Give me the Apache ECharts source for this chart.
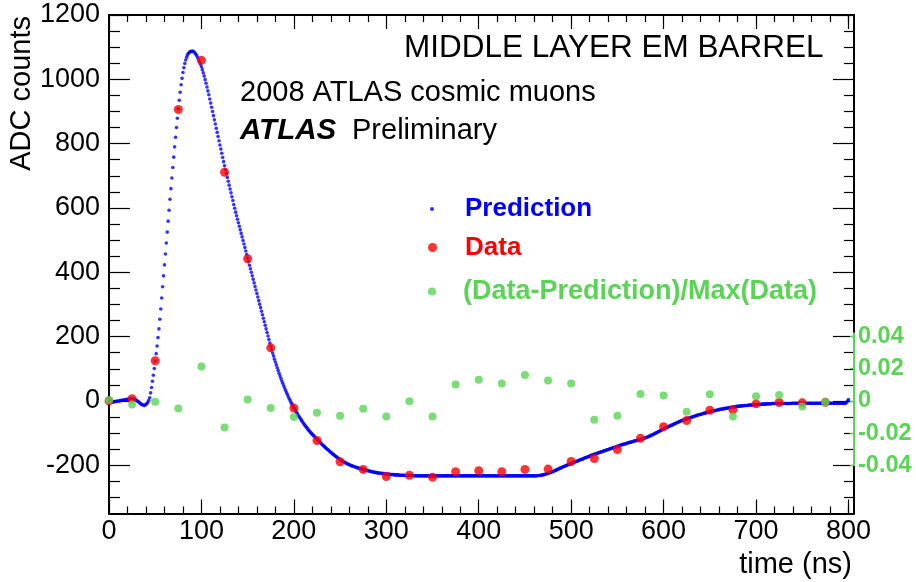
<!DOCTYPE html>
<html>
<head>
<meta charset="utf-8">
<script src="https://cdn.jsdelivr.net/npm/echarts@6/dist/echarts.min.js"></script>
<style>
  html, body { margin: 0; padding: 0; background: #ffffff; }
  #chart { width: 916px; height: 582px; }
</style>
</head>
<body>
<div id="chart"></div>
<script>
// ---- tick positions and labels ----
const xMajorTicks = [0, 100, 200, 300, 400, 500, 600, 700, 800];
const xMinorTicks = [20, 40, 60, 80, 120, 140, 160, 180, 220, 240, 260, 280, 320, 340, 360, 380,
  420, 440, 460, 480, 520, 540, 560, 580, 620, 640, 660, 680, 720, 740, 760, 780, 800];
const yMajorTicks = [-200, 0, 200, 400, 600, 800, 1000, 1200];
const yMinorTicks = [-300, -250, -150, -100, -50, 50, 100, 150, 250, 300, 350, 450, 500, 550,
  650, 700, 750, 850, 900, 950, 1050, 1100, 1150];
const residualTicks = [-0.04, -0.02, 0, 0.02, 0.04];

// ---- predicted pulse shape, one sample per ns starting at 0 ns (ADC counts) ----
const predictionStart = 0;
const prediction = [
  -4, -4, -4, -3, -3, -3, -2, -2, -1, -1,
  0, 0, 1, 1, 2, 2, 3, 3, 4, 4,
  5, 5, 6, 6, 6, 6, 6, 5, 4, 3,
  1, -1, -3, -6, -8, -10, -12, -13, -14, -13,
  -11, -8, -4, 2, 10, 25, 42, 61, 80, 101,
  124, 147, 171, 197, 224, 254, 286, 320, 355, 389,
  423, 457, 491, 525, 559, 593, 627, 660, 693, 726,
  758, 790, 820, 850, 879, 908, 935, 960, 983, 1003,
  1021, 1036, 1049, 1060, 1069, 1076, 1081, 1084, 1086, 1087,
  1087, 1087, 1085, 1082, 1078, 1073, 1067, 1061, 1054, 1047,
  1039, 1030, 1020, 1010, 999, 988, 976, 964, 952, 939,
  926, 913, 900, 887, 874, 861, 848, 835, 822, 809,
  796, 783, 770, 757, 744, 731, 719, 707, 695, 683,
  671, 659, 647, 635, 623, 611, 599, 587, 576, 565,
  554, 543, 532, 521, 510, 499, 488, 477, 466, 455,
  444, 433, 422, 411, 400, 389, 378, 367, 356, 345,
  334, 323, 312, 301, 290, 279, 268, 257, 246, 235,
  224, 213, 202, 191, 180, 169, 159, 149, 140, 130,
  121, 112, 103, 95, 86, 78, 70, 62, 55, 47,
  40, 33, 26, 20, 13, 7, 1, -5, -10, -16,
  -21, -26, -31, -36, -41, -46, -50, -55, -59, -63,
  -68, -72, -76, -80, -83, -87, -91, -94, -98, -101,
  -104, -107, -110, -113, -116, -119, -122, -125, -128, -131,
  -134, -137, -139, -142, -145, -147, -150, -152, -155, -157,
  -160, -162, -165, -167, -169, -172, -174, -176, -178, -180,
  -182, -184, -186, -188, -189, -191, -193, -194, -196, -197,
  -198, -200, -201, -202, -203, -204, -205, -206, -207, -208,
  -209, -210, -211, -211, -212, -213, -214, -215, -215, -216,
  -217, -218, -218, -219, -220, -220, -221, -222, -222, -223,
  -223, -224, -224, -225, -225, -225, -226, -226, -226, -227,
  -227, -227, -228, -228, -228, -229, -229, -229, -229, -230,
  -230, -230, -230, -230, -231, -231, -231, -231, -231, -231,
  -232, -232, -232, -232, -232, -232, -232, -232, -232, -232,
  -233, -233, -233, -233, -233, -233, -233, -233, -233, -233,
  -233, -233, -233, -233, -233, -233, -233, -233, -233, -233,
  -233, -233, -233, -233, -233, -233, -233, -233, -233, -233,
  -233, -233, -233, -233, -233, -233, -233, -233, -233, -233,
  -233, -233, -233, -233, -233, -233, -233, -233, -233, -233,
  -233, -233, -233, -233, -233, -233, -233, -233, -233, -233,
  -233, -233, -233, -233, -233, -233, -233, -233, -233, -233,
  -233, -233, -233, -233, -233, -233, -233, -233, -233, -233,
  -233, -233, -233, -233, -233, -233, -233, -233, -233, -233,
  -233, -233, -233, -233, -233, -233, -233, -233, -233, -233,
  -233, -233, -233, -233, -233, -233, -233, -233, -233, -233,
  -233, -233, -233, -233, -233, -233, -233, -233, -233, -233,
  -233, -233, -233, -233, -233, -233, -233, -233, -233, -233,
  -233, -233, -233, -233, -232, -232, -232, -231, -231, -230,
  -229, -229, -228, -227, -226, -225, -224, -223, -222, -221,
  -220, -219, -217, -216, -215, -213, -212, -211, -209, -208,
  -207, -205, -204, -203, -202, -200, -199, -198, -197, -196,
  -195, -194, -193, -191, -190, -189, -188, -187, -185, -184,
  -183, -182, -181, -180, -178, -177, -176, -175, -174, -173,
  -171, -170, -169, -168, -167, -166, -165, -164, -163, -162,
  -161, -160, -159, -158, -157, -156, -155, -154, -153, -152,
  -151, -150, -149, -148, -147, -146, -145, -144, -143, -142,
  -141, -140, -139, -138, -137, -136, -135, -135, -134, -133,
  -132, -131, -130, -129, -129, -128, -127, -126, -125, -124,
  -124, -123, -122, -121, -121, -120, -119, -118, -117, -116,
  -115, -114, -113, -112, -110, -109, -108, -106, -105, -104,
  -102, -101, -99, -98, -96, -95, -93, -92, -90, -89,
  -87, -86, -84, -83, -82, -80, -79, -78, -76, -75,
  -74, -72, -71, -70, -68, -67, -66, -64, -63, -62,
  -61, -60, -59, -58, -57, -56, -55, -54, -53, -52,
  -51, -50, -49, -48, -47, -46, -45, -44, -43, -42,
  -42, -41, -40, -39, -38, -38, -37, -36, -35, -35,
  -34, -33, -32, -32, -31, -30, -30, -29, -28, -28,
  -27, -26, -26, -25, -25, -24, -24, -23, -23, -22,
  -22, -21, -21, -20, -20, -19, -19, -18, -18, -17,
  -17, -17, -16, -16, -16, -15, -15, -15, -14, -14,
  -14, -14, -13, -13, -13, -13, -13, -12, -12, -12,
  -12, -12, -11, -11, -11, -11, -10, -10, -10, -10,
  -10, -9, -9, -9, -9, -9, -9, -8, -8, -8,
  -8, -8, -8, -8, -8, -8, -8, -8, -8, -8,
  -8, -8, -8, -8, -8, -8, -8, -8, -8, -7,
  -7, -7, -7, -7, -7, -7, -7, -7, -7, -7,
  -7, -7, -7, -7, -7, -7, -7, -7, -7, -7,
  -7, -7, -7, -7, -7, -7, -7, -7, -7, -7,
  -7, -7, -7, -7, -7, -7, -7, -7, -7, -7,
  -7, -7, -7, -7, -7, -7, -7, -7, -7, -7,
  -7, -7, -7, -7, -7, -7, -8, -7, -4, 0,
  4
];

// ---- measured samples (every 25 ns) ----
const dataTimes = [0, 25, 50, 75, 100, 125, 150, 175, 200, 225, 250, 275, 300, 325, 350, 375,
  400, 425, 450, 475, 500, 525, 550, 575, 600, 625, 650, 675, 700, 725, 750, 775];
const dataValues = [0, 7, 125, 906, 1059, 711, 442, 165, -22, -123, -189, -213, -235, -231, -237, -220,
  -217, -220, -213, -212, -188, -179, -151, -116, -80, -61, -29, -28, -9, -5, -6, -4];
const residuals = [0.0005, -0.0022, -0.0005, -0.0047, 0.0213, -0.0165, 0.0009, -0.0045, -0.0101, -0.0074,
  -0.0092, -0.0049, -0.0097, -0.0003, -0.0097, 0.0102, 0.0131, 0.0108, 0.016, 0.0127,
  0.0108, -0.0118, -0.0093, 0.0043, 0.0033, -0.0068, 0.0041, -0.0097, 0.0028, 0.0036,
  -0.0035, -0.0008];

const FONT = '"Liberation Sans", Arial, Helvetica, sans-serif';
const BLUE = '#0000ff';
const RED = '#ff0000';
const GREEN = '#59d454';
const BLACK = '#000000';

const X_MIN = 0, X_MAX = 806;
const Y_MIN = -350, Y_MAX = 1200;

const plainNumber = v => String(v);

// An axis that only contributes tick marks (and optionally its line) to the frame.
function tickAxis(base, ticks, length, withLine) {
  return Object.assign({
    type: 'value',
    splitLine: { show: false },
    axisLabel: { show: false },
    axisLine: { show: !!withLine, onZero: false, lineStyle: { color: BLACK, width: 2 } },
    axisTick: { show: true, inside: true, length: length, customValues: ticks,
      lineStyle: { color: BLACK, width: 1.2 } }
  }, base);
}

const chart = echarts.init(document.getElementById('chart'), null, { renderer: 'canvas' });

chart.setOption({
  backgroundColor: '#ffffff',
  animation: false,
  grid: [
    { left: 109, right: 62, top: 15, bottom: 68.5 },
    { left: 109, right: 62, top: 333.3, height: 131.9 }
  ],
  xAxis: [
    Object.assign(tickAxis({ gridIndex: 0, position: 'bottom', min: X_MIN, max: X_MAX }, xMajorTicks, 14, true), {
      axisLabel: { show: true, customValues: xMajorTicks, formatter: plainNumber,
        color: BLACK, fontSize: 27, fontFamily: FONT, margin: 5 }
    }),
    tickAxis({ gridIndex: 0, position: 'bottom', min: X_MIN, max: X_MAX }, xMinorTicks, 7, false),
    tickAxis({ gridIndex: 0, position: 'top', min: X_MIN, max: X_MAX }, xMajorTicks, 14, true),
    tickAxis({ gridIndex: 0, position: 'top', min: X_MIN, max: X_MAX }, xMinorTicks, 7, false),
    { type: 'value', gridIndex: 1, min: X_MIN, max: X_MAX, show: false, axisLine: { onZero: false } }
  ],
  yAxis: [
    Object.assign(tickAxis({ gridIndex: 0, position: 'left', min: Y_MIN, max: Y_MAX }, yMajorTicks, 21, true), {
      axisLabel: { show: true, customValues: yMajorTicks, formatter: plainNumber,
        color: BLACK, fontSize: 27, fontFamily: FONT, margin: 9, padding: [4, 0, 0, 0] }
    }),
    tickAxis({ gridIndex: 0, position: 'left', min: Y_MIN, max: Y_MAX }, yMinorTicks, 11, false),
    tickAxis({ gridIndex: 0, position: 'right', min: Y_MIN, max: Y_MAX }, yMajorTicks, 21, true),
    tickAxis({ gridIndex: 0, position: 'right', min: Y_MIN, max: Y_MAX }, yMinorTicks, 10, false),
    {
      type: 'value', gridIndex: 1, position: 'right', min: -0.04, max: 0.042, z: 5,
      splitLine: { show: false },
      axisLine: { show: true, onZero: false, lineStyle: { color: GREEN, width: 2 } },
      axisTick: { show: true, inside: true, length: 4, customValues: residualTicks,
        lineStyle: { color: GREEN, width: 1.2 } },
      axisLabel: { show: true, customValues: residualTicks, formatter: plainNumber, color: GREEN, fontSize: 23.5,
        fontWeight: 'bold', fontFamily: FONT, margin: 4, padding: [7, 0, 0, 0] }
    }
  ],
  legend: [
    {
      selectedMode: false, orient: 'vertical', left: 430, top: 194, padding: 0,
      itemWidth: 4, itemHeight: 4,
      data: [{ name: 'Prediction', icon: 'circle' }],
      textStyle: { color: BLUE, fontWeight: 'bold', fontSize: 26, fontFamily: FONT,
        lineHeight: 30, padding: [0, 0, 0, 26] }
    },
    {
      selectedMode: false, orient: 'vertical', left: 428, top: 232.5, padding: 0,
      itemWidth: 9, itemHeight: 9,
      data: [{ name: 'Data', icon: 'circle' }],
      textStyle: { color: RED, fontWeight: 'bold', fontSize: 26, fontFamily: FONT,
        lineHeight: 30, padding: [0, 0, 0, 23] }
    },
    {
      selectedMode: false, orient: 'vertical', left: 428, top: 276.5, padding: 0,
      itemWidth: 8, itemHeight: 8,
      data: [{ name: '(Data-Prediction)/Max(Data)', icon: 'circle' }],
      textStyle: { color: GREEN, fontWeight: 'bold', fontSize: 27, fontFamily: FONT,
        lineHeight: 30, padding: [0, 0, 0, 22] }
    }
  ],
  graphic: [
    { type: 'text', x: 404, y: 48, silent: true,
      style: { text: 'MIDDLE LAYER EM BARREL', font: '31.5px ' + FONT, fill: BLACK,
        align: 'left', verticalAlign: 'middle', textAlign: 'left', textVerticalAlign: 'middle' } },
    { type: 'text', x: 240, y: 93, silent: true,
      style: { text: '2008 ATLAS cosmic muons', font: '29px ' + FONT, fill: BLACK,
        align: 'left', verticalAlign: 'middle', textAlign: 'left', textVerticalAlign: 'middle' } },
    { type: 'text', x: 240, y: 131, silent: true,
      style: { text: 'ATLAS', font: 'italic bold 29.5px ' + FONT, fill: BLACK,
        align: 'left', verticalAlign: 'middle', textAlign: 'left', textVerticalAlign: 'middle' } },
    { type: 'text', x: 352, y: 131, silent: true,
      style: { text: 'Preliminary', font: '29px ' + FONT, fill: BLACK,
        align: 'left', verticalAlign: 'middle', textAlign: 'left', textVerticalAlign: 'middle' } },
    { type: 'text', x: 22, y: 16, rotation: Math.PI / 2, silent: true,
      style: { text: 'ADC counts', font: '29px ' + FONT, fill: BLACK,
        align: 'right', verticalAlign: 'middle', textAlign: 'right', textVerticalAlign: 'middle' } },
    { type: 'text', x: 852, y: 565, silent: true,
      style: { text: 'time (ns)', font: '29px ' + FONT, fill: BLACK,
        align: 'right', verticalAlign: 'middle', textAlign: 'right', textVerticalAlign: 'middle' } }
  ],
  series: [
    {
      name: 'Prediction', type: 'scatter', xAxisIndex: 0, yAxisIndex: 0, z: 2, silent: true,
      symbol: 'circle', symbolSize: 3.6, itemStyle: { color: BLUE },
      data: prediction.map((v, i) => [predictionStart + i, v])
    },
    {
      name: 'Data', type: 'scatter', xAxisIndex: 0, yAxisIndex: 0, z: 3, silent: true,
      symbol: 'circle', symbolSize: 9, itemStyle: { color: RED },
      data: dataTimes.map((t, i) => [t, dataValues[i]])
    },
    {
      name: '(Data-Prediction)/Max(Data)', type: 'scatter', xAxisIndex: 4, yAxisIndex: 4, z: 4, silent: true,
      symbol: 'circle', symbolSize: 8, itemStyle: { color: GREEN },
      data: dataTimes.map((t, i) => [t, residuals[i]])
    }
  ]
});
</script>
</body>
</html>
